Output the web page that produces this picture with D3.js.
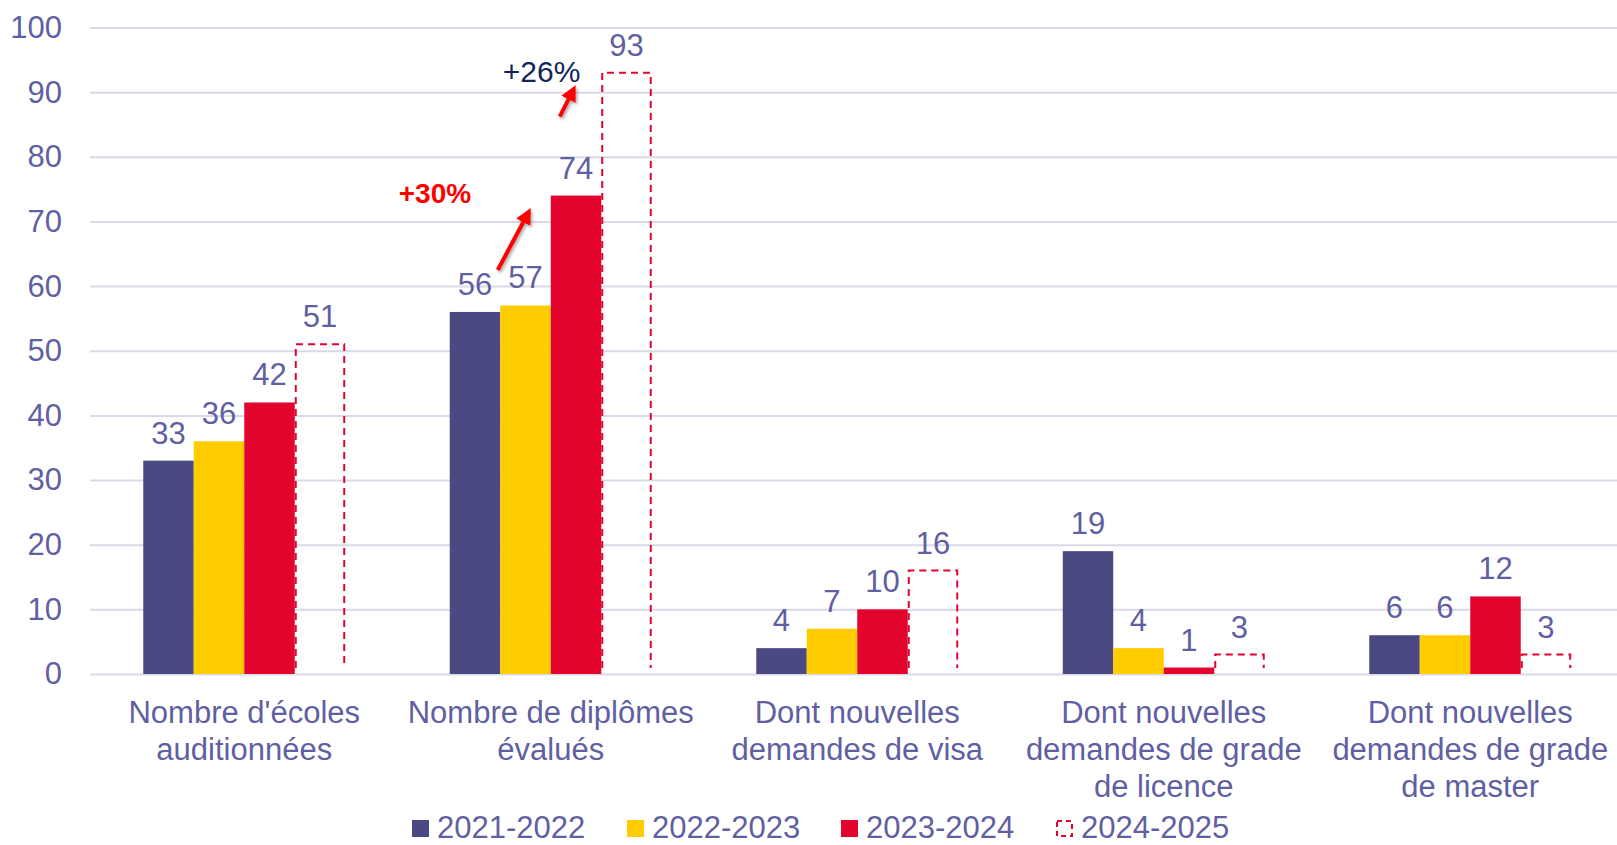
<!DOCTYPE html>
<html>
<head>
<meta charset="utf-8">
<script src="https://cdn.jsdelivr.net/npm/d3@7"></script>
<style>
  body { margin: 0; background: #fff; }
  svg text { font-family: "Liberation Sans", Arial, sans-serif; }
</style>
</head>
<body>
<div id="chart"></div>
<script>
// Data
const categories = [
    "Nombre d'écoles\nauditionnées",
    "Nombre de diplômes\névalués",
    "Dont nouvelles\ndemandes de visa",
    "Dont nouvelles\ndemandes de grade\nde licence",
    "Dont nouvelles\ndemandes de grade\nde master"
];
const seriesNames = ["2021-2022", "2022-2023", "2023-2024", "2024-2025"];
const values2021 = [33, 56, 4, 19, 6];
const values2022 = [36, 57, 7, 4, 6];
const values2023 = [42, 74, 10, 1, 12];
const values2024 = [51, 93, 16, 3, 3];
const yTicks = [0, 10, 20, 30, 40, 50, 60, 70, 80, 90, 100];

const allValues = [values2021, values2022, values2023, values2024];
const colors = ["#4b4984", "#ffcc00", "#e2042c", "#e2042c"];
const textColor = "#5f5fa2";
const gridColor = "#d9d9e8";

const width = 1617;
const height = 845;

const svg = d3.select("#chart").append("svg")
    .attr("width", width)
    .attr("height", height);

const defs = svg.append("defs");
defs.append("marker")
    .attr("id", "arrowhead")
    .attr("viewBox", "0 0 10 10")
    .attr("refX", 6)
    .attr("refY", 5)
    .attr("markerWidth", 4)
    .attr("markerHeight", 4)
    .attr("markerUnits", "strokeWidth")
    .attr("orient", "auto")
    .append("path")
    .attr("d", "M0,0 L10,5 L0,10 z")
    .attr("fill", "#ff0000");
defs.append("filter")
    .attr("id", "shadow")
    .attr("x", "-50%").attr("y", "-50%").attr("width", "200%").attr("height", "200%")
    .append("feDropShadow")
    .attr("dx", 1.5).attr("dy", 2)
    .attr("stdDeviation", 1.5)
    .attr("flood-color", "#000")
    .attr("flood-opacity", 0.35);

const x0 = d3.scaleBand()
    .domain(categories)
    .range([91, 91 + 5 * 306.5])
    .paddingInner(0.341)
    .paddingOuter(0.1705);

const x1 = d3.scaleBand()
    .domain(seriesNames)
    .range([0, x0.bandwidth()]);

const y = d3.scaleLinear()
    .domain([0, 100])
    .range([674, 27.5]);

// Y axis + gridlines
const yAxis = svg.append("g")
    .attr("transform", "translate(90,0)")
    .call(d3.axisLeft(y).tickValues(yTicks).tickSize(-(width - 90)).tickPadding(28));
yAxis.select(".domain").remove();
yAxis.selectAll(".tick line").attr("stroke", gridColor).attr("stroke-width", 2);
yAxis.selectAll(".tick text")
    .attr("fill", textColor)
    .style("font-size", "31px");

// Bars
const groups = svg.append("g")
    .selectAll("g")
    .data(categories)
    .join("g")
    .attr("transform", d => `translate(${x0(d)},0)`);

groups.each(function(cat, ci) {
    const g = d3.select(this);
    seriesNames.forEach((s, si) => {
        const v = allValues[si][ci];
        const bx = x1(s);
        const bw = x1.bandwidth();
        if (si < 3) {
            g.append("rect")
                .attr("x", bx)
                .attr("y", y(v))
                .attr("width", bw)
                .attr("height", y(0) - y(v))
                .attr("fill", colors[si]);
        } else {
            g.append("path")
                .attr("d", `M${bx + 1},${y(0) - 6} L${bx + 1},${y(v)} L${bx + bw - 1},${y(v)} L${bx + bw - 1},${y(0) - 6}`)
                .attr("fill", "none")
                .attr("stroke", colors[si])
                .attr("stroke-width", 2)
                .attr("stroke-dasharray", "7,5");
        }
        g.append("text")
            .attr("x", bx + bw / 2)
            .attr("y", y(v) - 17)
            .attr("text-anchor", "middle")
            .attr("fill", textColor)
            .style("font-size", "31px")
            .text(v);
    });
});

// X axis labels
const xAxis = svg.append("g")
    .attr("transform", `translate(0,${y(0)})`)
    .call(d3.axisBottom(x0).tickSize(0).tickFormat(""));
xAxis.select(".domain").remove();
xAxis.selectAll(".tick").each(function(d) {
    const t = d3.select(this).append("text")
        .attr("text-anchor", "middle")
        .attr("fill", textColor)
        .style("font-size", "31px");
    d.split("\n").forEach((line, i) => {
        t.append("tspan")
            .attr("x", 0)
            .attr("y", 49 + i * 37)
            .text(line);
    });
});

// Annotations on "Nombre de diplômes évalués"
const bandStart = x0(categories[1]);
svg.append("line")
    .attr("x1", bandStart + 48).attr("y1", y(62.5))
    .attr("x2", bandStart + 78).attr("y2", y(71.2))
    .attr("stroke", "#ff0000").attr("stroke-width", 4)
    .attr("marker-end", "url(#arrowhead)")
    .attr("filter", "url(#shadow)");
svg.append("line")
    .attr("x1", bandStart + 110).attr("y1", y(86.2))
    .attr("x2", bandStart + 123).attr("y2", y(90.2))
    .attr("stroke", "#ff0000").attr("stroke-width", 4)
    .attr("marker-end", "url(#arrowhead)")
    .attr("filter", "url(#shadow)");
svg.append("text")
    .attr("x", bandStart - 51)
    .attr("y", y(72.9))
    .attr("fill", "#ff0000")
    .style("font-size", "28px")
    .style("font-weight", "bold")
    .text("+30%");
svg.append("text")
    .attr("x", bandStart + 53)
    .attr("y", y(91.6))
    .attr("fill", "#13235e")
    .style("font-size", "30px")
    .text("+26%");

// Legend
const legendX = [412, 627, 841, 1056];
const legend = svg.append("g")
    .selectAll("g")
    .data(seriesNames)
    .join("g")
    .attr("transform", (d, i) => `translate(${legendX[i]},0)`);

legend.each(function(d, i) {
    const g = d3.select(this);
    if (i < 3) {
        g.append("rect")
            .attr("x", 0).attr("y", 820)
            .attr("width", 17).attr("height", 17)
            .attr("fill", colors[i]);
    } else {
        g.append("rect")
            .attr("x", 1).attr("y", 821)
            .attr("width", 15).attr("height", 15)
            .attr("fill", "none")
            .attr("stroke", colors[i])
            .attr("stroke-width", 2)
            .attr("stroke-dasharray", "5,4");
    }
    g.append("text")
        .attr("x", 25)
        .attr("y", 838)
        .attr("fill", textColor)
        .style("font-size", "31px")
        .text(d);
});
</script>
</body>
</html>
